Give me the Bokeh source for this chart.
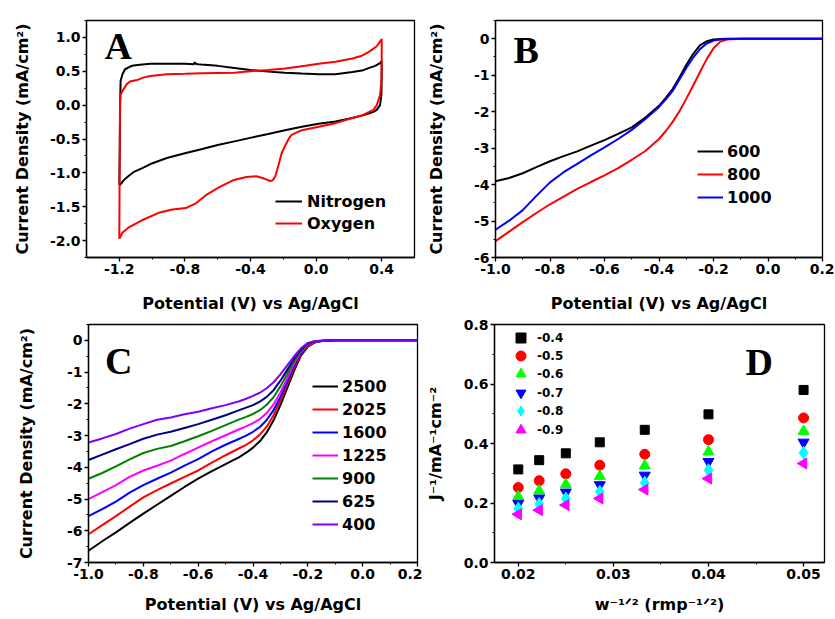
import math
from bokeh.plotting import figure
from bokeh.layouts import row, column
from bokeh.models import (Legend, LegendItem, Label, SingleIntervalTicker,
                          NumeralTickFormatter, Range1d)
from bokeh.embed import file_html
from bokeh.resources import INLINE

FONT = "DejaVu Sans"
SERIF = "Liberation Serif"

# ---------------- Panel A : CV in N2 / O2 ----------------
a_n2_E = [-1.2, -1.197, -1.195, -1.192, -1.18, -1.165, -1.134, -1.114, -1.06, -1.01, -0.91,
          -0.80, -0.745, -0.74, -0.735, -0.72, -0.70, -0.60, -0.498, -0.40, -0.292, -0.19,
          -0.087, 0.016, 0.118, 0.221, 0.28, 0.324, 0.36, 0.39, 0.40, 0.40, 0.398, 0.39,
          0.37, 0.35, 0.324, 0.28, 0.221, 0.118, 0.016, -0.087, -0.19, -0.292, -0.395,
          -0.498, -0.60, -0.70, -0.80, -0.91, -1.01, -1.06, -1.114, -1.14, -1.165, -1.18,
          -1.196]
a_n2_J = [-1.18, -0.6, 0.0, 0.36, 0.46, 0.53, 0.57, 0.586, 0.60, 0.61, 0.61,
          0.61, 0.605, 0.635, 0.61, 0.605, 0.60, 0.58, 0.55, 0.52, 0.495, 0.48,
          0.466, 0.456, 0.456, 0.49, 0.51, 0.55, 0.58, 0.62, 0.65, 0.40, 0.15, 0.0,
          -0.07, -0.10, -0.12, -0.155, -0.19, -0.24, -0.275, -0.32, -0.37, -0.425, -0.48,
          -0.535, -0.59, -0.65, -0.71, -0.78, -0.87, -0.93, -0.99, -1.04, -1.09, -1.13,
          -1.18]

a_o2_E = [-1.2, -1.198, -1.196, -1.193, -1.18, -1.165, -1.155, -1.134, -1.093, -1.05, -1.01,
          -0.91, -0.80, -0.70, -0.60, -0.498, -0.40, -0.292, -0.19, -0.087, 0.016, 0.118,
          0.221, 0.28, 0.324, 0.37, 0.40, 0.40, 0.398, 0.39, 0.37, 0.35, 0.324, 0.28,
          0.221, 0.118, 0.016, -0.087, -0.15, -0.165, -0.18, -0.195, -0.21, -0.23, -0.25,
          -0.265, -0.282, -0.30, -0.323, -0.364, -0.425, -0.507, -0.59, -0.672, -0.733,
          -0.795, -0.877, -0.96, -1.062, -1.145, -1.18, -1.2]
a_o2_J = [-1.975, -1.0, 0.0, 0.15, 0.215, 0.27, 0.31, 0.35, 0.37, 0.41, 0.43,
          0.455, 0.462, 0.47, 0.475, 0.48, 0.50, 0.52, 0.54, 0.576, 0.61, 0.64,
          0.69, 0.73, 0.79, 0.87, 0.975, 0.60, 0.35, 0.15, 0.0, -0.07, -0.10, -0.15,
          -0.19, -0.266, -0.32, -0.37, -0.44, -0.49, -0.56, -0.63, -0.71, -0.89, -1.06,
          -1.11, -1.12, -1.10, -1.08, -1.05, -1.06, -1.11, -1.21, -1.33, -1.45,
          -1.52, -1.54, -1.59, -1.70, -1.81, -1.88, -1.975]

# ---------------- Panel B : LSV, three catalysts ----------------
b_E = [-1.0, -0.95, -0.9, -0.85, -0.8, -0.75, -0.7, -0.65, -0.6, -0.55, -0.5, -0.45,
       -0.4, -0.375, -0.35, -0.325, -0.3, -0.275, -0.25, -0.225, -0.2, -0.175, -0.15,
       -0.1, 0.0, 0.1, 0.2]
b_600 = [-3.91, -3.82, -3.69, -3.52, -3.36, -3.22, -3.09, -2.93, -2.78, -2.61, -2.43, -2.16,
         -1.84, -1.62, -1.38, -1.06, -0.72, -0.42, -0.18, -0.07, -0.02, -0.01, 0, 0, 0, 0, 0]
b_800 = [-5.55, -5.29, -5.03, -4.78, -4.54, -4.33, -4.12, -3.93, -3.75, -3.55, -3.32, -3.08,
         -2.75, -2.53, -2.28, -1.99, -1.65, -1.29, -0.92, -0.56, -0.26, -0.08, -0.02, 0, 0, 0, 0]
b_1000 = [-5.24, -4.99, -4.70, -4.31, -3.94, -3.66, -3.43, -3.20, -2.98, -2.75, -2.50, -2.20,
          -1.87, -1.66, -1.43, -1.12, -0.80, -0.52, -0.29, -0.13, -0.05, -0.02, -0.01, 0, 0, 0, 0]
b_labels = ["600", "800", "1000"]

# ---------------- Panel C : LSV at rotation rates ----------------
c_E = [-1.0, -0.95, -0.9, -0.85, -0.8, -0.75, -0.7, -0.65, -0.6, -0.55, -0.5, -0.45, -0.425,
       -0.4, -0.375, -0.35, -0.325, -0.3, -0.275, -0.25, -0.225, -0.2, -0.175, -0.15, -0.1,
       0.0, 0.1, 0.2]
c_2500 = [-6.63, -6.33, -6.05, -5.75, -5.46, -5.18, -4.90, -4.62, -4.36, -4.12, -3.90, -3.68,
          -3.54, -3.38, -3.18, -2.90, -2.52, -2.04, -1.50, -0.95, -0.48, -0.20, -0.07, -0.02,
          0, 0, 0, 0]
c_2025 = [-6.11, -5.82, -5.54, -5.24, -4.95, -4.72, -4.51, -4.30, -4.10, -3.85, -3.62, -3.40,
          -3.29, -3.15, -2.97, -2.72, -2.36, -1.90, -1.39, -0.87, -0.44, -0.18, -0.06, -0.02,
          0, 0, 0, 0]
c_1600 = [-5.54, -5.32, -5.08, -4.80, -4.56, -4.36, -4.17, -3.95, -3.74, -3.50, -3.29, -3.10,
          -3.00, -2.88, -2.73, -2.51, -2.20, -1.78, -1.30, -0.80, -0.40, -0.16, -0.05, -0.02,
          0, 0, 0, 0]
c_1225 = [-5.00, -4.78, -4.56, -4.30, -4.10, -3.95, -3.79, -3.58, -3.38, -3.18, -2.99, -2.80,
          -2.71, -2.61, -2.48, -2.29, -2.02, -1.64, -1.19, -0.73, -0.37, -0.14, -0.05, -0.02,
          0, 0, 0, 0]
c_900 = [-4.36, -4.18, -3.97, -3.75, -3.55, -3.42, -3.33, -3.18, -3.02, -2.85, -2.67, -2.49,
         -2.41, -2.32, -2.20, -2.03, -1.79, -1.45, -1.06, -0.65, -0.33, -0.12, -0.04, -0.01,
         0, 0, 0, 0]
c_625 = [-3.77, -3.60, -3.43, -3.27, -3.10, -2.97, -2.88, -2.76, -2.64, -2.50, -2.36, -2.20,
         -2.12, -2.04, -1.93, -1.78, -1.57, -1.27, -0.93, -0.57, -0.29, -0.10, -0.03, -0.01,
         0, 0, 0, 0]
c_400 = [-3.22, -3.09, -2.95, -2.78, -2.64, -2.50, -2.43, -2.33, -2.25, -2.14, -2.04, -1.92,
         -1.84, -1.75, -1.65, -1.51, -1.32, -1.07, -0.79, -0.50, -0.25, -0.08, -0.03, -0.01,
         0, 0, 0, 0]
c_labels = ["2500", "2025", "1600", "1225", "900", "625", "400"]

# ---------------- Panel D : Koutecky-Levich ----------------
d_w = [0.02, 0.0222, 0.025, 0.02857, 0.0333, 0.04, 0.05]
d_04 = [0.313, 0.344, 0.367, 0.404, 0.446, 0.498, 0.580]
d_05 = [0.252, 0.275, 0.298, 0.327, 0.364, 0.413, 0.486]
d_06 = [0.221, 0.241, 0.262, 0.290, 0.325, 0.372, 0.441]
d_07 = [0.198, 0.216, 0.236, 0.261, 0.293, 0.339, 0.404]
d_08 = [0.181, 0.197, 0.215, 0.238, 0.268, 0.310, 0.369]
d_09 = [0.162, 0.176, 0.193, 0.215, 0.245, 0.282, 0.333]
d_labels = ["-0.4", "-0.5", "-0.6", "-0.7", "-0.8", "-0.9"]


def make_fig(w, h, left, right, top, bottom, xr, yr):
    p = figure(width=w, height=h, x_range=Range1d(*xr), y_range=Range1d(*yr),
               output_backend="svg", toolbar_location=None, tools="")
    p.min_border_left = left
    p.min_border_right = right
    p.min_border_top = top
    p.min_border_bottom = bottom
    p.xgrid.visible = False
    p.ygrid.visible = False
    p.outline_line_color = "black"
    p.outline_line_width = 1.3
    p.outline_line_alpha = 1.0
    p.background_fill_color = "white"
    p.border_fill_color = "white"
    return p


def style_axis(ax, interval, fmt, label, standoff):
    ax.ticker = SingleIntervalTicker(interval=interval, num_minor_ticks=2)
    ax.formatter = NumeralTickFormatter(format=fmt)
    ax.axis_label = label
    ax.axis_label_text_font = FONT
    ax.axis_label_text_font_style = "bold"
    ax.axis_label_text_font_size = "16px"
    ax.axis_label_text_color = "black"
    ax.axis_label_standoff = standoff
    ax.major_label_text_font = FONT
    ax.major_label_text_font_style = "bold"
    ax.major_label_text_font_size = "14px"
    ax.major_label_text_color = "black"
    ax.major_label_standoff = 2
    ax.major_tick_in = 0
    ax.major_tick_out = 4
    ax.minor_tick_in = 0
    ax.minor_tick_out = 2
    ax.axis_line_width = 1.3
    ax.major_tick_line_width = 1.3
    ax.minor_tick_line_width = 1.0
    ax.axis_line_color = "black"
    ax.major_tick_line_color = "black"
    ax.minor_tick_line_color = "black"


def make_legend(items, loc, gw, gh, spacing, standoff, fsize):
    leg = Legend(items=items, location=loc)
    leg.glyph_width = gw
    leg.glyph_height = gh
    leg.label_height = gh
    leg.label_width = 20
    leg.spacing = spacing
    leg.padding = 0
    leg.margin = 0
    leg.label_standoff = standoff
    leg.border_line_alpha = 0
    leg.background_fill_alpha = 0
    leg.label_text_font = FONT
    leg.label_text_font_style = "bold"
    leg.label_text_font_size = fsize
    leg.label_text_color = "black"
    return leg


def panel_letter(p, x, y, t):
    p.add_layout(Label(x=x, y=y, text=t, text_font=SERIF, text_font_style="bold",
                       text_font_size="38px", text_baseline="middle",
                       text_color="black"))


POT = "Potential (V) vs Ag/AgCl"
CD = "Current Density (mA/cm\u00b2)"

# Panel A  (frame 86..414 x 15..257)
pA = make_fig(422, 315, 86, 8, 15, 58, (-1.4, 0.6), (-2.25, 1.25))
style_axis(pA.xaxis[0], 0.4, "0.0", POT, 17)
style_axis(pA.yaxis[0], 0.5, "0.0", CD, 15)
rN = pA.line(a_n2_E, a_n2_J, line_color="black", line_width=2)
rO = pA.line(a_o2_E, a_o2_J, line_color="#FF0000", line_width=2)
pA.add_layout(make_legend([LegendItem(label="Nitrogen", renderers=[rN]),
                           LegendItem(label="Oxygen", renderers=[rO])],
                          (189, 24), 27, 20, 2, 5, "16px"))
panel_letter(pA, -1.29, 0.867, "A")

# Panel B  (frame 495..822 x 20..257)
pB = make_fig(412, 315, 73, 12, 20, 58, (-1.0, 0.2), (-6.0, 0.5))
style_axis(pB.xaxis[0], 0.2, "0.0", POT, 17)
style_axis(pB.yaxis[0], 1, "0", CD, 25)
b_cols = ["black", "#FF0000", "#0000FF"]
b_items = []
for ys, col, lab in zip([b_600, b_800, b_1000], b_cols, b_labels):
    r = pB.line(b_E, ys, line_color=col, line_width=2)
    b_items.append(LegendItem(label=lab, renderers=[r]))
pB.add_layout(make_legend(b_items, (202, 50), 26, 20, 3, 4, "16px"))
panel_letter(pB, -0.934, -0.296, "B")

# Panel C  (frame 88..417 x 320..562)
pC = make_fig(422, 303, 88, 5, 5, 56, (-1.0, 0.2), (-7.0, 0.5))
style_axis(pC.xaxis[0], 0.2, "0.0", POT, 13)
style_axis(pC.yaxis[0], 1, "0", CD, 28)
c_cols = ["black", "#FF0000", "#0000FF", "#FF00FF", "#008000", "#000080", "#8000FF"]
c_items = []
for ys, col, lab in zip([c_2500, c_2025, c_1600, c_1225, c_900, c_625, c_400], c_cols, c_labels):
    r = pC.line(c_E, ys, line_color=col, line_width=2)
    c_items.append(LegendItem(label=lab, renderers=[r]))
pC.add_layout(make_legend(c_items, (224, 28), 26, 20, 3, 4, "16px"))
panel_letter(pC, -0.94, -0.648, "C")

# Panel D  (frame 493..824 x 324..564)
pD = make_fig(412, 303, 71, 10, 9, 54, (0.0175, 0.0522), (0.0, 0.8))
style_axis(pD.xaxis[0], 0.01, "0.00", "w\u207b\u00b9\u141f\u00b2 (rmp\u207b\u00b9\u141f\u00b2)", 13)
style_axis(pD.yaxis[0], 0.2, "0.0", "J\u207b\u00b9/mA\u207b\u00b9cm\u207b\u00b2", 16)
d_specs = [("square", "black", 0.0, 9), ("circle", "#FF0000", 0.0, 10),
           ("triangle", "#00FF00", 0.0, 11), ("inverted_triangle", "#0000FF", 0.0, 11),
           ("diamond", "#00FFFF", 0.0, 13), ("triangle", "#FF00FF", math.pi / 2, 11)]
d_row_gap = 18.35
for i, (ys, (mk, col, ang, sz), lab) in enumerate(zip([d_04, d_05, d_06, d_07, d_08, d_09],
                                                       d_specs, d_labels)):
    r = pD.scatter(d_w, ys, marker=mk, size=sz, angle=ang, fill_color=col, line_color=col)
    # one single-item legend per series keeps the legend markers at full size
    vy = round(212.2 - d_row_gap * i)
    pD.add_layout(make_legend([LegendItem(label=lab, renderers=[r])], (14, vy),
                              25, 25, 0, 4, "12px"))
panel_letter(pD, 0.0439, 0.675, "D")

layout = column(row(pA, pB), row(pC, pD))
open("out.html", "w").write(file_html(layout, INLINE))
